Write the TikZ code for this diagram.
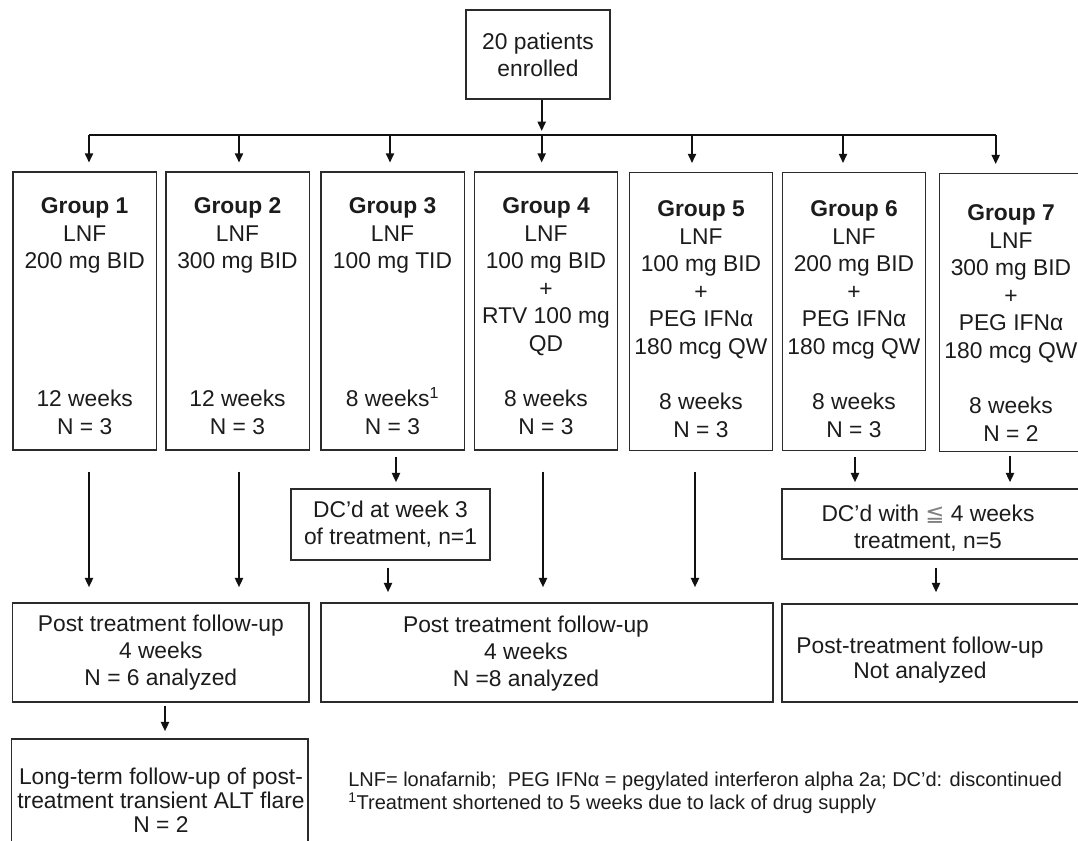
\documentclass[tikz,border=0pt]{standalone}
\usepackage{fontspec}
\setmainfont{Liberation Sans}
\newfontfamily\dejavu{DejaVu Sans}
\usetikzlibrary{arrows.meta}
\definecolor{boxcol}{HTML}{2B2B2B}
\definecolor{txtcol}{HTML}{1C1C1C}
\definecolor{arrcol}{HTML}{111111}
\tikzset{
  box/.style={draw=boxcol, line width=1.1pt, inner sep=0pt, fill=white},
  gbox/.style={box, minimum width=107.6pt, minimum height=208.5pt},
  txt/.style={font=\fontsize{17.1}{20.7}\selectfont, text=txtcol, align=center, inner sep=0pt},
  arr/.style={draw=arrcol, line width=1.6pt, -{Triangle[length=7pt,width=6pt]}},
  busline/.style={draw=arrcol, line width=1.6pt},
}
\begin{document}
\begin{tikzpicture}[x=0.75pt, y=-0.75pt]
\useasboundingbox (0,0) rectangle (1078,840);
\fill[white] (0,0) rectangle (1078,840);
\clip (0,0) rectangle (1078,840);

% top
\node[box, minimum width=108pt, minimum height=66.75pt, txt, font=\fontsize{17.1}{20.25}\selectfont] (top) at (538,54.5) {20 patients\\enrolled};

% group boxes
\node[gbox] (g1) at (84.7,311) {};
\node[gbox] (g2) at (237.5,311) {};
\node[gbox] (g3) at (392.5,311) {};
\node[gbox] (g4) at (546,311) {};
\node[gbox] (g5) at (701,311.5) {};
\node[gbox] (g6) at (854,311.5) {};
\node[gbox] (g7) at (1011,312.5) {};

\node[txt] (g1t) at (84.7,316) {\textbf{Group 1}\\LNF\\200 mg BID\\[82.8pt]12 weeks\\N = 3};
\node[txt] (g2t) at (237.5,316) {\textbf{Group 2}\\LNF\\300 mg BID\\[82.8pt]12 weeks\\N = 3};
\node[txt] (g3t) at (392.5,316) {\textbf{Group 3}\\LNF\\100 mg TID\\[82.8pt]8 weeks\textsuperscript{1}\\N = 3};
\node[txt] (g4t) at (546,316) {\textbf{Group 4}\\LNF\\100 mg BID\\+\\RTV 100 mg\\QD\\[20.7pt]8 weeks\\N = 3};
\node[txt] (g5t) at (701,319) {\textbf{Group 5}\\LNF\\100 mg BID\\+\\PEG IFNα\\180 mcg QW\\[20.7pt]8 weeks\\N = 3};
\node[txt] (g6t) at (854,319) {\textbf{Group 6}\\LNF\\200 mg BID\\+\\PEG IFNα\\180 mcg QW\\[20.7pt]8 weeks\\N = 3};
\node[txt] (g7t) at (1011,323) {\textbf{Group 7}\\LNF\\300 mg BID\\+\\PEG IFNα\\180 mcg QW\\[20.7pt]8 weeks\\N = 2};

% DC boxes
\node[box, minimum width=149.25pt, minimum height=53.25pt, txt, font=\fontsize{17.1}{20.25}\selectfont] (dc1) at (390.5,524.5) {DC’d at week 3\\of treatment, n=1};
\node[box, minimum width=231pt, minimum height=52.5pt] (dc2) at (936,524) {};
\node[txt, font=\fontsize{17.1}{20.25}\selectfont] (dc2t) at (928,528.5) {DC’d with {\dejavu\color{gray}≦} 4 weeks\\treatment, n=5};

% post-treatment boxes
\node[box, minimum width=222.2pt, minimum height=74.25pt, txt, font=\fontsize{17.1}{20.25}\selectfont] (pt1) at (160.85,652.5) {Post treatment follow-up\\4 weeks\\N = 6 analyzed};
\node[box, minimum width=339pt, minimum height=74.25pt] (pt2) at (547,652.5) {};
\node[txt, font=\fontsize{17.1}{20.25}\selectfont] (pt2t) at (526,654) {Post treatment follow-up\\4 weeks\\N =8 analyzed};
\node[box, minimum width=231pt, minimum height=73.5pt] (pt3) at (936,653) {};
\node[txt, font=\fontsize{17.1}{18.75}\selectfont] (pt3t) at (920,660.5) {Post-treatment follow-up\\Not analyzed};

% long-term box
\node[box, minimum width=222.2pt, minimum height=91.5pt] (lt) at (159.85,800) {};
\node[txt, font=\fontsize{17.1}{18}\selectfont] (ltt) at (161,800) {Long-term follow-up of post-\\treatment transient ALT flare\\N = 2};

% footnote
\node[font=\fontsize{15}{17.25}\selectfont, text=txtcol, align=left, anchor=west, inner sep=0pt] (fn) at (348,793) {LNF= lonafarnib;\ \ PEG IFNα = pegylated interferon alpha 2a; DC’d: discontinued\\\textsuperscript{1}Treatment shortened to 5 weeks due to lack of drug supply};

% bus
\coordinate (bus) at (541.7,135);
\coordinate (bl) at (89,135);
\coordinate (br) at (995.7,135);
\draw[busline] (bl) -- (br);
\draw[arr, shorten >=3pt] (bus |- top.south) -- (bus);
\foreach \i/\xx in {1/89, 2/239, 3/390, 4/541.7, 5/692, 6/843, 7/995.7}{
  \coordinate (c\i) at (\xx,135);
  \draw[arr, shorten >=6.5pt] (c\i) -- (c\i |- g\i.north);
}

% row 2 arrows
\coordinate (a1) at (89,0);
\coordinate (a2) at (239,0);
\coordinate (a4) at (543,0);
\coordinate (a5) at (695,0);
\coordinate (a3) at (396,0);
\coordinate (d1) at (388,0);
\coordinate (a6) at (855,0);
\coordinate (a7) at (1010,0);
\coordinate (d2) at (936,0);
\coordinate (p1) at (165,0);

\draw[arr, shorten <=15.75pt, shorten >=11.25pt] (a1 |- g1.south) -- (a1 |- pt1.north);
\draw[arr, shorten <=15.75pt, shorten >=11.25pt] (a2 |- g2.south) -- (a2 |- pt1.north);
\draw[arr, shorten <=15.75pt, shorten >=11.25pt] (a4 |- g4.south) -- (a4 |- pt2.north);
\draw[arr, shorten <=15.75pt, shorten >=11.25pt] (a5 |- g5.south) -- (a5 |- pt2.north);
\draw[arr, shorten <=4.5pt, shorten >=4.5pt] (a3 |- g3.south) -- (a3 |- dc1.north);
\draw[arr, shorten <=5.25pt, shorten >=7.5pt] (d1 |- dc1.south) -- (d1 |- pt2.north);
\draw[arr, shorten <=4.5pt, shorten >=4.5pt] (a6 |- g6.south) -- (a6 |- dc2.north);
\draw[arr, shorten <=3pt, shorten >=4.5pt] (a7 |- g7.south) -- (a7 |- dc2.north);
\draw[arr, shorten <=6pt, shorten >=8.25pt] (d2 |- dc2.south) -- (d2 |- pt3.north);
\draw[arr, shorten <=2.25pt, shorten >=5.25pt] (p1 |- pt1.south) -- (p1 |- lt.north);
\end{tikzpicture}
\end{document}
